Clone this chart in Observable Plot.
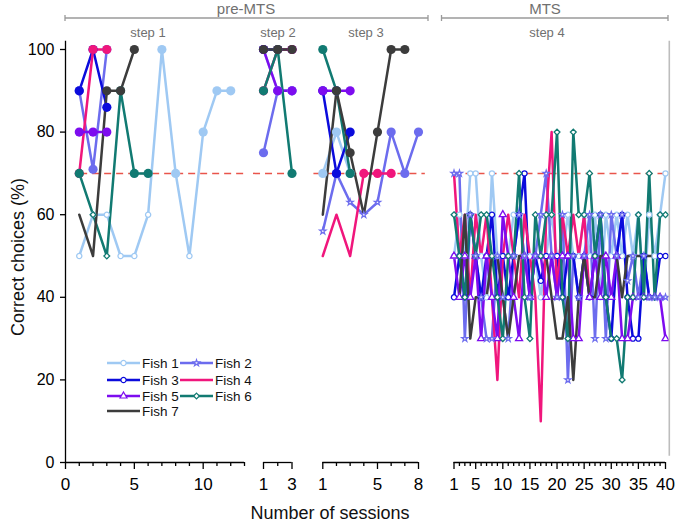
<!DOCTYPE html>
<html>
<head>
<meta charset="utf-8">
<script src="https://cdn.jsdelivr.net/npm/d3@7"></script>
<script src="https://cdn.jsdelivr.net/npm/@observablehq/plot@0.6"></script>
<style>
  html, body { margin: 0; padding: 0; background: #fff; }
  #chart { position: relative; width: 679px; height: 524px; background: #fff; font-family: "Liberation Sans", Arial, sans-serif; overflow: hidden; }
  #chart svg.plot-panel { position: absolute; left: 0; top: 0; }
</style>
</head>
<body>
<div id="chart"></div>
<script>
// ---------- data ----------
const fishNames = ["Fish 1", "Fish 2", "Fish 3", "Fish 4", "Fish 5", "Fish 6", "Fish 7"];
const fishColors = ["#9fc9f3", "#6c6cee", "#0b0bdc", "#f0167c", "#7d0cef", "#117a72", "#3c3c3c"];
const markerFish = ["Fish 1", "Fish 2", "Fish 3", "Fish 5", "Fish 6"];
const markerSymbols = ["circle", "star", "circle", "triangle", "diamond2"];

// pre-MTS, step 1 (sessions 1..n), one list per fish
const step1 = [
  [50, 60, 60, 50, 50, 60, 100, 70, 50, 80, 90, 90],
  [90, 71, 100],
  [90, 100, 86],
  [70, 100, 100],
  [80, 80, 80],
  [70, 60, 50, 90, 70, 70],
  [60, 50, 90, 90, 100]
];
// pre-MTS, step 2
const step2 = [
  [100, 90, 90],
  [75, 90, 90],
  [100, 100, 100],
  [90, 100, 100],
  [100, 90, 90],
  [90, 100, 70],
  [100, 100, 100]
];
// pre-MTS, step 3
const step3 = [
  [70, 80, 70],
  [56, 70, 63, 60, 63, 80, 70, 80],
  [90, 70, 80],
  [50, 60, 50, 70, 70, 70],
  [90, 90, 90],
  [100, 90, 70],
  [60, 90, 75, 60, 80, 100, 100]
];
// MTS, step 4
const step4Fish1 = [50,60,50,70,70,50,40,70,50,50, 50,60,60,50,50,50,40,50,60,50, 50,60,50,50,60,50,60,40,60,50, 60,50,60,50,60,40,60,50,60,70];
const step4Fish2 = [70,70,30,60,50,40,30,30,50,40, 30,50,60,50,40,50,60,70,50,40, 60,20,50,40,50,60,30,60,30,60, 50,60,44,50,40,50,40,40,40,40];
const step4Fish3 = [40,50,40,60,50,40,50,60,40,50, 40,50,60,70,40,50,44,50,50,50, 40,50,50,40,50,40,50,60,40,30, 50,60,40,30,30,50,40,40,50,50];
const step4Fish4 = [70,50,60,40,60,50,60,40,20,50, 60,50,40,60,50,40,10,60,80,40, 60,50,60,50,60,40];
const step4Fish5 = [50,40,50,40,50,30,50,40,30,60, 50,40,30,50,40,50,50,40,50, 40,50,50,30,30,50,40,50,40,50,40,50,30,30,40,40,40,40,40,40,30];
const step4Fish6 = [60,50,40,60,50,60,60,50,40,30, 50,50,70,40,30,60,50,60,60, 80,40,30,80,60,60,70,50,60,40,30,30,20,40,40,60,40,70,40,60,60];
const step4Fish7 = [40,40,60,30,40,40,40,50,50,40, 30,40,50,50,50,50,50,50,40,30, 30,40,20,40,50,40,40,50,50,50, 50,40,50,50,50,50,50,50,50,50];
const step4 = [step4Fish1, step4Fish2, step4Fish3, step4Fish4, step4Fish5, step4Fish6, step4Fish7];

const criterion = 70;
const yTicks = [0, 20, 40, 60, 80, 100];

// ---------- helpers ----------
const rowsFrom = arrays => arrays.flatMap((vals, i) => vals.map((v, j) => ({fish: fishNames[i], s: j + 1, v})));

const W = 679, H = 524, TOP = 49, BOTTOM = 462;
const FONT = "'Liberation Sans', Arial, sans-serif";

function panel({domain, left, right, rows, pre, majors, minors, dash, yAxis, border}) {
  const marks = [];
  marks.push(Plot.ruleY([criterion], {x1: dash[0], x2: dash[1], stroke: "#e9554b", strokeWidth: 1.5, strokeDasharray: "7,5"}));
  marks.push(Plot.line(rows, {x: "s", y: "v", z: "fish", stroke: "fish", strokeWidth: 2.5}));
  const open = rows.filter(d => markerFish.includes(d.fish) && (!pre || d.v < criterion));
  marks.push(Plot.dot(open.filter(d => d.fish !== "Fish 2"), {x: "s", y: "v", symbol: "fish", stroke: "fish", fill: "white", r: 2.6, strokeWidth: 1.3}));
  marks.push(Plot.dot(open.filter(d => d.fish === "Fish 2"), {x: "s", y: "v", symbol: "fish", stroke: "fish", fill: "white", r: 2.0, strokeWidth: 1.2}));
  if (pre) {
    marks.push(Plot.dot(rows.filter(d => d.v >= criterion), {x: "s", y: "v", fill: "fish", r: 4.6}));
  }
  // x axis
  marks.push(Plot.ruleY([0], {stroke: "black", strokeWidth: 1.3}));
  marks.push(Plot.axisX({ticks: minors, tickSize: 4, tickFormat: () => "", label: null, strokeWidth: 1.3}));
  marks.push(Plot.axisX({ticks: majors, tickSize: 7, tickPadding: 8, tickFormat: d3.format("d"), label: null, strokeWidth: 1.3, fontSize: 17}));
  if (yAxis) {
    marks.push(Plot.ruleX([domain[0]], {y1: 0, y2: 102, stroke: "black", strokeWidth: 1.3}));
    marks.push(Plot.axisY({ticks: yTicks, tickSize: 5, tickPadding: 6, tickFormat: d3.format("d"), label: null, strokeWidth: 1.3, fontSize: 16}));
  }
  if (border != null) {
    marks.push(Plot.ruleX([border], {y1: 1.5, y2: 102, stroke: "#bdbdbd", strokeWidth: 1.6}));
  }
  const svg = Plot.plot({
    width: W, height: H,
    marginLeft: left, marginRight: W - right, marginTop: TOP, marginBottom: H - BOTTOM,
    x: {domain, label: null},
    y: {domain: [0, 100], label: null, axis: null},
    color: {domain: fishNames, range: fishColors},
    symbol: {domain: markerFish, range: markerSymbols},
    style: {background: "transparent", overflow: "visible", fontFamily: FONT, fontSize: "16px", color: "black"},
    marks
  });
  svg.classList.add("plot-panel");
  return svg;
}

const chart = document.getElementById("chart");
const range = (a, b) => d3.range(a, b + 1);

chart.append(panel({domain: [0, 13], left: 65, right: 244, rows: rowsFrom(step1), pre: true,
  majors: [0, 5, 10], minors: range(0, 13).filter(d => d % 5), dash: [1.1, 13.2], yAxis: true}));
chart.append(panel({domain: [1, 3], left: 263, right: 291.5, rows: rowsFrom(step2), pre: true,
  majors: [1, 3], minors: [2], dash: [0.3, 3.6]}));
chart.append(panel({domain: [1, 8], left: 322.3, right: 418, rows: rowsFrom(step3), pre: true,
  majors: [1, 5, 8], minors: [2, 3, 4, 6, 7], dash: [0.35, 8.5]}));
chart.append(panel({domain: [1, 40], left: 453.5, right: 665, rows: rowsFrom(step4), pre: false,
  majors: [1, 5, 10, 15, 20, 25, 30, 35, 40], minors: range(1, 40).filter(d => d !== 1 && d % 5), dash: [1, 40.6], border: 40.7}));

// ---------- headers, titles, legend (overlay) ----------
const ov = d3.select(chart).append("svg").attr("class", "plot-panel").attr("width", W).attr("height", H)
  .style("font-family", FONT).style("overflow", "visible");

function bracket(x1, x2, y) {
  ov.append("line").attr("x1", x1).attr("x2", x2).attr("y1", y).attr("y2", y).attr("stroke", "#9a9a9a").attr("stroke-width", 1.3);
  [x1, x2].forEach(x => ov.append("line").attr("x1", x).attr("x2", x).attr("y1", y - 3).attr("y2", y + 3).attr("stroke", "#9a9a9a").attr("stroke-width", 1.3));
}
bracket(65, 428, 18);
bracket(441.5, 668, 18);
const hdr = (x, y, t, size) => ov.append("text").attr("x", x).attr("y", y).attr("text-anchor", "middle")
  .attr("fill", "#707070").attr("font-size", size).text(t);
hdr(246, 14, "pre-MTS", 15);
hdr(545, 14, "MTS", 15);
hdr(148, 37, "step 1", 13);
hdr(278, 37, "step 2", 13);
hdr(366, 37, "step 3", 13);
hdr(547, 37, "step 4", 13);

// axis titles
ov.append("text").attr("x", 330).attr("y", 519).attr("text-anchor", "middle").attr("font-size", 18).attr("fill", "#111").text("Number of sessions");
ov.append("text").attr("transform", "translate(24,257) rotate(-90)").attr("text-anchor", "middle").attr("font-size", 18).attr("fill", "#111").text("Correct choices (%)");

// legend
const legendCols = [107, 180];
const legendRows = [363, 380, 396, 411];
fishNames.forEach((name, i) => {
  const cx = legendCols[i % 2], cy = legendRows[Math.floor(i / 2)];
  const color = fishColors[i];
  ov.append("line").attr("x1", cx).attr("x2", cx + 33).attr("y1", cy).attr("y2", cy).attr("stroke", color).attr("stroke-width", 2.4);
  const k = markerFish.indexOf(name);
  if (k >= 0) {
    const sym = {circle: d3.symbolCircle, star: d3.symbolStar, triangle: d3.symbolTriangle, diamond2: d3.symbolDiamond2}[markerSymbols[k]];
    const size = markerSymbols[k] === "star" ? 13 : 21;
    ov.append("path").attr("d", d3.symbol(sym, size)()).attr("transform", `translate(${cx + 16.5},${cy})`)
      .attr("fill", "white").attr("stroke", color).attr("stroke-width", 1.2);
  }
  ov.append("text").attr("x", cx + 35).attr("y", cy).attr("dy", "0.35em").attr("font-size", 13.5).attr("fill", "#111").text(name);
});
</script>
</body>
</html>
